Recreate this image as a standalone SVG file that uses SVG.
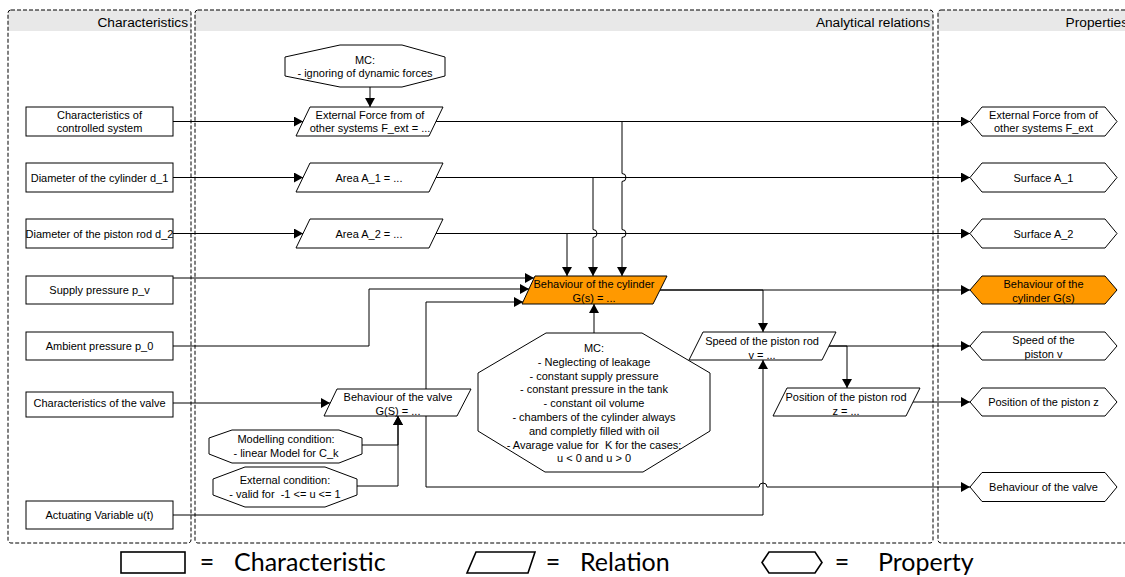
<svg xmlns="http://www.w3.org/2000/svg" width="1125" height="577" viewBox="0 0 1125 577">
<style>
.n{fill:#fff;stroke:#000;stroke-width:1}
.o{fill:#FF9900;stroke:#000;stroke-width:1}
.t{font-family:"Liberation Sans",Arial,sans-serif;font-size:11px;text-anchor:middle;fill:#000;white-space:pre}
.h{font-family:"Liberation Sans",Arial,sans-serif;font-size:13.7px;text-anchor:end;fill:#000}
.e{fill:none;stroke:#000;stroke-width:1}
.lane{fill:none;stroke:#000;stroke-width:1;stroke-dasharray:4 2}
.hd{fill:#e8e8e8}
.lg{font-family:Lato,"Open Sans",sans-serif;font-size:25px;fill:#000}
.ls{fill:#fff;stroke:#000;stroke-width:1.6}
</style>
<defs>
<marker id="arr" viewBox="0 0 9 10" refX="9" refY="5" markerWidth="9" markerHeight="10" markerUnits="userSpaceOnUse" orient="auto">
<path d="M0,0 L9,5 L0,10 Z" fill="#000"/>
</marker>
</defs>
<rect width="1125" height="577" fill="#fff"/>
<g id="lanes">
<path class="hd" d="M8,31 V13 Q8,10 11,10 H188 Q191,10 191,13 V31 Z"/>
<rect class="lane" x="8" y="10" width="183" height="533" rx="3"/>
<text class="h" x="188" y="26.5">Characteristics</text>
<path class="hd" d="M195,31 V13 Q195,10 198,10 H930 Q933,10 933,13 V31 Z"/>
<rect class="lane" x="195" y="10" width="738" height="533" rx="3"/>
<text class="h" x="930" y="26.5">Analytical relations</text>
<path class="hd" d="M938,31 V13 Q938,10 941,10 H1140 V31 Z"/>
<rect class="lane" x="938" y="10" width="200" height="533" rx="3"/>
<text class="h" x="1128" y="26.5">Properties</text>
</g>
<g id="connectors" class="e">
<path class="e" marker-end="url(#arr)" d="M173,121.5 H303"/>
<path class="e" marker-end="url(#arr)" d="M173,177.5 H303"/>
<path class="e" marker-end="url(#arr)" d="M173,233.5 H303"/>
<path class="e" marker-end="url(#arr)" d="M173,278 H534"/>
<path class="e" marker-end="url(#arr)" d="M173,346 H369 V289 H529"/>
<path class="e" marker-end="url(#arr)" d="M426,389 V302 H523"/>
<path class="e" marker-end="url(#arr)" d="M426,416 V487 H759 A4,4 0 0,1 767,487 H970"/>
<path class="e" marker-end="url(#arr)" d="M436,121.5 H970"/>
<path class="e" marker-end="url(#arr)" d="M436,121.5 H622 V173.5 A4,4 0 0,1 622,181.5 V229.5 A4,4 0 0,1 622,237.5 V276"/>
<path class="e" marker-end="url(#arr)" d="M436,177.5 H970"/>
<path class="e" marker-end="url(#arr)" d="M436,177.5 H593 V229.5 A4,4 0 0,1 593,237.5 V276"/>
<path class="e" marker-end="url(#arr)" d="M436,233.5 H970"/>
<path class="e" marker-end="url(#arr)" d="M436,233.5 H567 V276"/>
<path class="e" marker-end="url(#arr)" d="M370,87 V107"/>
<path class="e" marker-end="url(#arr)" d="M594,333 V304"/>
<path class="e" marker-end="url(#arr)" d="M660,290 H970"/>
<path class="e" marker-end="url(#arr)" d="M660,290 H763 V332"/>
<path class="e" marker-end="url(#arr)" d="M173,515 H763 V360"/>
<path class="e" marker-end="url(#arr)" d="M829,346 H970"/>
<path class="e" marker-end="url(#arr)" d="M829,346 H847 V388"/>
<path class="e" marker-end="url(#arr)" d="M913,402 H970"/>
<path class="e" marker-end="url(#arr)" d="M173,403 H330"/>
<path class="e" marker-end="url(#arr)" d="M362,445 H398 V416"/>
<path class="e" marker-end="url(#arr)" d="M357,486 H398 V416"/>
</g>
<g id="c1"><rect class="n" x="26" y="107" width="147" height="29"/><text class="t" x="99.5" y="119">Characteristics of</text><text class="t" x="99.5" y="132">controlled system</text></g>
<g id="c2"><rect class="n" x="26" y="163" width="147" height="29"/><text class="t" x="99.5" y="181.5">Diameter of the cylinder d_1</text></g>
<g id="c3"><rect class="n" x="26" y="219" width="147" height="29"/><text class="t" x="99.5" y="237.5">Diameter of the piston rod d_2</text></g>
<g id="c4"><rect class="n" x="26" y="276" width="147" height="28"/><text class="t" x="99.5" y="294">Supply pressure p_v</text></g>
<g id="c5"><rect class="n" x="26" y="332" width="147" height="28"/><text class="t" x="99.5" y="350">Ambient pressure p_0</text></g>
<g id="c6"><rect class="n" x="26" y="392" width="147" height="25"/><text class="t" x="99.5" y="407">Characteristics of the valve</text></g>
<g id="c7"><rect class="n" x="26" y="501" width="147" height="28"/><text class="t" x="99.5" y="519">Actuating Variable u(t)</text></g>
<g id="r1"><polygon class="n" points="310,107 443,107 429,136 296,136"/><text class="t" x="370" y="119">External Force from of</text><text class="t" x="370" y="132">other systems F_ext = ...</text></g>
<g id="r2"><polygon class="n" points="310,163 443,163 429,192 296,192"/><text class="t" x="369" y="181.5">Area A_1 = ...</text></g>
<g id="r3"><polygon class="n" points="310,219 443,219 429,248 296,248"/><text class="t" x="369" y="237.5">Area A_2 = ...</text></g>
<g id="r4"><polygon class="o" points="535,276 667,276 653,304 522,304"/><text class="t" x="594" y="288.2">Behaviour of the cylinder</text><text class="t" x="594" y="301.6">G(s) = ...</text></g>
<g id="r5"><polygon class="n" points="703,332 836,332 822,360 689,360"/><text class="t" x="762" y="345">Speed of the piston rod</text><text class="t" x="762" y="359">v = ...</text></g>
<g id="r6"><polygon class="n" points="787,388 920,388 906,416 773,416"/><text class="t" x="846" y="401">Position of the piston rod</text><text class="t" x="846" y="415">z = ...</text></g>
<g id="r7"><polygon class="n" points="337,389 471,389 457,416 324,416"/><text class="t" x="398" y="401">Behaviour of the valve</text><text class="t" x="398" y="415">G(S) = ...</text></g>
<g id="m1"><polygon class="n" points="340,45 402,45 445,57 445,76 402,87 340,87 285,76 285,57"/><text class="t" x="365" y="64">MC:</text><text class="t" x="365" y="77">- ignoring of dynamic forces</text></g>
<g id="m2"><polygon class="n" points="546,333 642,333 710,373 710,431 643,472 545,472 478,431 478,373"/>
<text class="t" x="594" y="352">MC:</text>
<text class="t" x="594" y="365.8">- Neglecting of leakage</text>
<text class="t" x="594" y="379.6">- constant supply pressure</text>
<text class="t" x="594" y="393.4">- constant pressure in the tank</text>
<text class="t" x="594" y="407.2">- constant oil volume</text>
<text class="t" x="594" y="421">- chambers of the cylinder always</text>
<text class="t" x="594" y="434.8">and completly filled with oil</text>
<text class="t" x="594" y="448.6">- Avarage value for  K for the cases:</text>
<text class="t" x="594" y="462.4">u &lt; 0 and u &gt; 0</text></g>
<g id="m3"><polygon class="n" points="232,430 339,430 362,438 362,454 339,463 232,463 209,454 209,438"/><text class="t" x="286" y="443">Modelling condition:</text><text class="t" x="286" y="456.5">- linear Model for C_k</text></g>
<g id="m4"><polygon class="n" points="245,467 325,467 357,479 357,495 325,507 245,507 213,495 213,479"/><text class="t" x="285" y="484">External condition:</text><text class="t" x="285" y="498">- valid for  -1 &lt;= u &lt;= 1</text></g>
<g id="p1"><polygon class="n" points="970,121.5 982,107 1105,107 1117,121.5 1105,136 982,136"/><text class="t" x="1043.5" y="119">External Force from of</text><text class="t" x="1043.5" y="132">other systems F_ext</text></g>
<g id="p2"><polygon class="n" points="970,177.5 982,163 1105,163 1117,177.5 1105,192 982,192"/><text class="t" x="1043.5" y="181.5">Surface A_1</text></g>
<g id="p3"><polygon class="n" points="970,233.5 982,219 1105,219 1117,233.5 1105,248 982,248"/><text class="t" x="1043.5" y="237.5">Surface A_2</text></g>
<g id="p4"><polygon class="o" points="970,290 982,276 1105,276 1117,290 1105,304 982,304"/><text class="t" x="1043.5" y="288">Behaviour of the</text><text class="t" x="1043.5" y="302">cylinder G(s)</text></g>
<g id="p5"><polygon class="n" points="970,346 982,332 1105,332 1117,346 1105,360 982,360"/><text class="t" x="1043.5" y="344">Speed of the</text><text class="t" x="1043.5" y="358">piston v</text></g>
<g id="p6"><polygon class="n" points="970,402 982,388 1105,388 1117,402 1105,416 982,416"/><text class="t" x="1043.5" y="406">Position of the piston z</text></g>
<g id="p7"><polygon class="n" points="970,487 982,472.5 1105,472.5 1117,487 1105,501.5 982,501.5"/><text class="t" x="1043.5" y="491">Behaviour of the valve</text></g>
<g id="legend">
<rect class="ls" x="121" y="552" width="64" height="21"/>
<text class="lg" x="207" y="571" text-anchor="middle">=</text>
<text class="lg" x="234" y="571">Characteristic</text>
<polygon class="ls" points="476,552 535,552 528,573 467,573"/>
<text class="lg" x="553" y="571" text-anchor="middle">=</text>
<text class="lg" x="580" y="571">Relation</text>
<polygon class="ls" points="762,562.5 769,552 815,552 822,562.5 815,573 769,573"/>
<text class="lg" x="842" y="571" text-anchor="middle">=</text>
<text class="lg" x="878" y="571">Property</text>
</g>
</svg>
